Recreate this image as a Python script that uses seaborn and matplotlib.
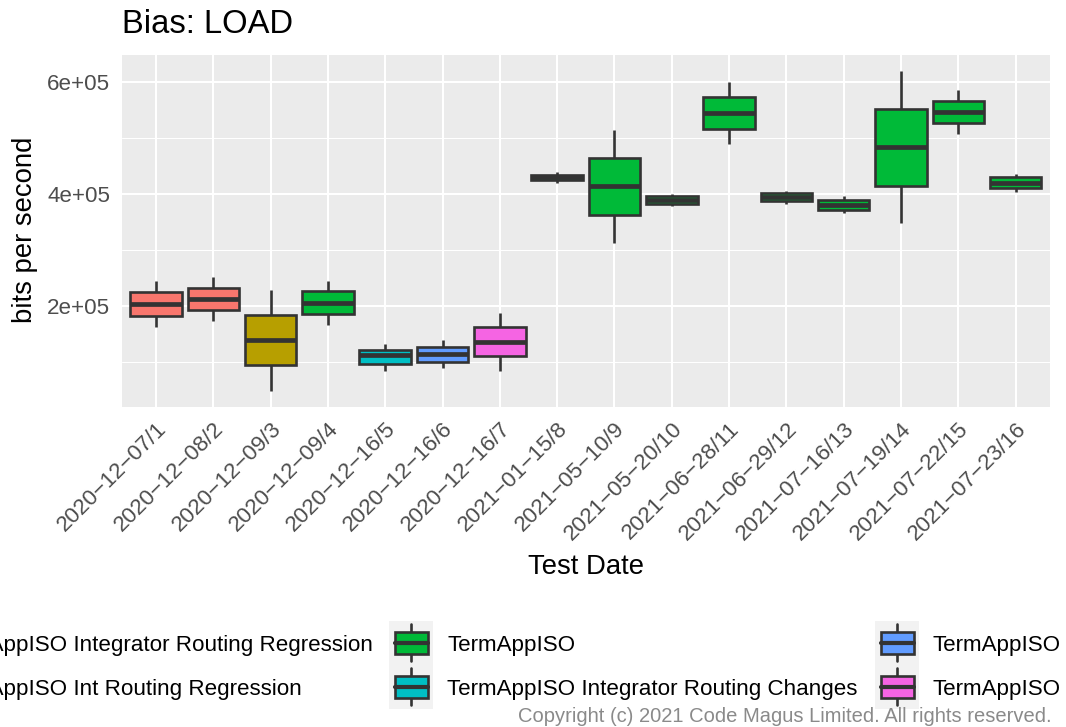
import numpy as np
import pandas as pd
import matplotlib
matplotlib.use("Agg")
import matplotlib.pyplot as plt
import seaborn as sns
from matplotlib.patches import Rectangle
from matplotlib.lines import Line2D

# ---------------- data ----------------
test_dates = ["2020-12-07/1", "2020-12-08/2", "2020-12-09/3", "2020-12-09/4",
              "2020-12-16/5", "2020-12-16/6", "2020-12-16/7", "2021-01-15/8",
              "2021-05-10/9", "2021-05-20/10", "2021-06-28/11", "2021-06-29/12",
              "2021-07-16/13", "2021-07-19/14", "2021-07-22/15", "2021-07-23/16"]
test_groups = ["g1", "g1", "g2", "g3", "g4", "g5", "g6", "g3",
               "g3", "g3", "g3", "g3", "g3", "g3", "g3", "g3"]
whisker_low = [163000, 173000, 48500, 166000, 84700, 88900, 84100, 420000,
               311800, 378000, 490000, 381800, 365200, 348500, 507800, 402700]
q1_vals = [182700, 192900, 94300, 185200, 96600, 100700, 110900, 425000,
           362200, 382700, 516000, 386800, 372000, 414400, 526700, 410700]
median_vals = [204100, 211900, 139400, 205900, 112700, 114400, 136400, 430000,
               413900, 390000, 544600, 394000, 381000, 484000, 546300, 420000]
q3_vals = [225500, 231500, 184000, 226700, 121600, 127500, 162600, 434000,
           465000, 397000, 573100, 401100, 389800, 552400, 566000, 429600]
whisker_high = [245100, 251000, 228500, 245100, 132300, 139400, 187000, 439000,
                515000, 400800, 599300, 405500, 396600, 619400, 585000, 436500]

group_levels = ["g1", "g2", "g3", "g4", "g5", "g6"]
group_labels = ["TermAppISO Integrator Routing Regression",
                "TermAppISO Int Routing Regression",
                "TermAppISO",
                "TermAppISO Integrator Routing Changes",
                "TermAppISO",
                "TermAppISO"]
group_colors = ["#F8766D", "#B79F00", "#00BA38", "#00BFC4", "#619CFF", "#F564E3"]

y_ticks = [200000, 400000, 600000]
y_tick_labels = ["2e+05", "4e+05", "6e+05"]
y_minor_ticks = [100000, 300000, 500000]
x_tick_labels = [d.replace("-", "\u2212") for d in test_dates]

title_text = "Bias: LOAD"
x_title = "Test Date"
y_title = "bits per second"
copyright_text = "Copyright (c) 2021 Code Magus Limited. All rights reserved."

# long-form table: five summary values per test date
rows = []
for d, g, a, b, c, e, f in zip(test_dates, test_groups, whisker_low, q1_vals,
                               median_vals, q3_vals, whisker_high):
    for v in (a, b, c, e, f):
        rows.append({"date": d, "group": g, "bps": v})
df = pd.DataFrame(rows)

# ---------------- style ----------------
sns.set_theme(style="darkgrid")
plt.rcParams["font.family"] = ["Liberation Sans", "DejaVu Sans"]

TICK_FS = 16.1
AXIS_FS = 19.8
TITLE_FS = 23.6
LEG_FS = 16.1
COPY_FS = 14.5

W, H = 1066, 727
def fx(px):
    return px / W
def fy(py):
    return 1 - py / H

fig = plt.figure(figsize=(W / 100, H / 100), dpi=100)
fig.patch.set_facecolor("white")
pl, pr, pt, pb = 121.6, 1050, 55, 407
ax = fig.add_axes([fx(pl), fy(pb), (pr - pl) / W, (pb - pt) / H])
ax.set_facecolor("#EBEBEB")

LINE = "#333333"
sns.boxplot(data=df, x="date", y="bps", hue="group", order=test_dates,
            hue_order=group_levels, palette=dict(zip(group_levels, group_colors)),
            dodge=False, width=0.9, saturation=1, linewidth=1.9, linecolor=LINE,
            showcaps=False, fliersize=0, legend=False,
            medianprops=dict(linewidth=3.4), ax=ax)

lo, hi = min(whisker_low), max(whisker_high)
pad = 0.05 * (hi - lo)
ax.set_ylim(lo - pad, hi + pad)
ax.set_xlim(-0.6, len(test_dates) - 0.4)

ax.set_axisbelow(True)
ax.grid(False)
ax.set_yticks(y_ticks)
ax.set_yticklabels(y_tick_labels)
ax.set_yticks(y_minor_ticks, minor=True)
ax.set_xticks(range(len(test_dates)))
ax.set_xticklabels(x_tick_labels, rotation=45, ha="right", va="top",
                   rotation_mode="anchor")
ax.grid(True, which="major", color="white", linewidth=1.5)
ax.grid(True, which="minor", axis="y", color="white", linewidth=0.75)
for s in ax.spines.values():
    s.set_visible(False)
ax.tick_params(which="major", length=4.3, width=1.4, color=LINE,
               labelcolor="#4D4D4D", labelsize=TICK_FS, pad=4)
ax.tick_params(which="minor", length=0)
ax.set_xlabel("")
ax.set_ylabel("")

# titles
fig.text(fx(122), fy(33.3), title_text, fontsize=TITLE_FS, color="black",
         ha="left", va="baseline")
fig.text(fx(25), fy(230), y_title, fontsize=AXIS_FS, rotation=90,
         ha="center", va="center", color="black")
fig.text(fx((pl + pr) / 2), fy(573.5), x_title, fontsize=AXIS_FS,
         ha="center", va="baseline", color="black")

# ---------------- legend ----------------
KEY = 44
row_tops = [620.7, 664.5]

def draw_key(x0, y0, color):
    fig.add_artist(Rectangle((fx(x0), fy(y0 + KEY)), KEY / W, KEY / H,
                             transform=fig.transFigure, facecolor="#F2F2F2",
                             edgecolor="none", zorder=1))
    cx = x0 + KEY / 2
    fig.add_artist(Line2D([fx(cx), fx(cx)], [fy(y0 + 3.6), fy(y0 + 40.3)],
                          transform=fig.transFigure, color=LINE, lw=1.9, zorder=2))
    fig.add_artist(Rectangle((fx(x0 + 5.5), fy(y0 + 33.3)), 33 / W, 22.3 / H,
                             transform=fig.transFigure, facecolor=color,
                             edgecolor=LINE, lw=1.9, zorder=3))
    fig.add_artist(Line2D([fx(x0 + 5.5), fx(x0 + 38.5)], [fy(y0 + 22), fy(y0 + 22)],
                          transform=fig.transFigure, color=LINE, lw=3.0, zorder=4))

renderer = fig.canvas.get_renderer()
# first column: its first label ends at x=373 px, both labels share the left edge
probe = fig.text(0, 0, group_labels[0], fontsize=LEG_FS)
w0 = probe.get_window_extent(renderer=renderer).width
probe.remove()
col1_text_left = 373 - w0
col_key_left = [col1_text_left - 14 - KEY, 389, 875]
col_text_left = [col1_text_left, 447, 932.7]
for i, (lab, col) in enumerate(zip(group_labels, group_colors)):
    c, r = divmod(i, 2)
    yc = row_tops[r] + KEY / 2
    fig.text(fx(col_text_left[c]), fy(yc), lab, fontsize=LEG_FS, ha="left",
             va="center_baseline", color="black")
    draw_key(col_key_left[c], row_tops[r], col)

fig.text(fx(1052), fy(715), copyright_text, fontsize=COPY_FS, ha="right",
         va="center_baseline", color="#8A8A8A")

fig.savefig("out.png", dpi=100)
